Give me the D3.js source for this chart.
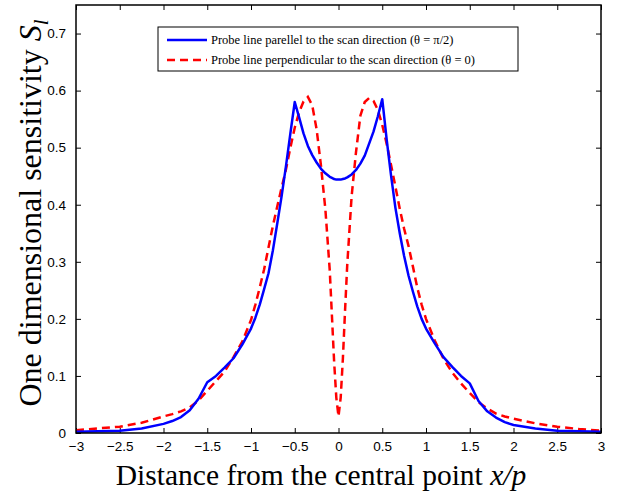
<!DOCTYPE html>
<html lang="en">
<head>
    <meta charset="UTF-8">
    <title>One dimensional sensitivity</title>
    <script src="https://d3js.org/d3.v7.min.js"></script>
    <style>
        body { margin: 0; background: #fff; }
        .tick text { font-family: "Liberation Sans", Arial, sans-serif; font-size: 13.5px; fill: #000; }
    </style>
</head>
<body>
<svg width="618" height="496"></svg>
<script>
    const width = 618;
    const height = 496;
    const margin = {top: 5, right: 17, bottom: 63, left: 76};
    const innerWidth = width - margin.left - margin.right;
    const innerHeight = height - margin.top - margin.bottom;

    // distance from the central point x/p
    const xs = [
        -3, -2.75, -2.5, -2.25, -2, -1.9, -1.8, -1.7, -1.6, -1.5, -1.4, -1.3, -1.2, -1.1, -1,
        -0.95, -0.9, -0.85, -0.8, -0.75, -0.7, -0.65, -0.6, -0.55, -0.5, -0.45, -0.4, -0.35, -0.3, -0.25, -0.2, -0.15, -0.1, -0.075, -0.05, -0.025, 0,
        0.025, 0.05, 0.075, 0.1, 0.15, 0.2, 0.25, 0.3, 0.35, 0.4, 0.45, 0.5, 0.55, 0.6, 0.65, 0.7, 0.75, 0.8, 0.85, 0.9, 0.95, 1,
        1.1, 1.2, 1.3, 1.4, 1.5, 1.6, 1.7, 1.8, 1.9, 2, 2.25, 2.5, 2.75, 3
    ];
    // probe line parallel to scan direction (theta = pi/2)
    const parallel = [
        0.002, 0.003, 0.004, 0.008, 0.016, 0.021, 0.028, 0.040, 0.060, 0.089, 0.100, 0.115, 0.131, 0.155, 0.183,
        0.202, 0.225, 0.252, 0.280, 0.320, 0.367, 0.415, 0.468, 0.525, 0.580, 0.553, 0.525, 0.503, 0.487, 0.474, 0.463, 0.455, 0.449, 0.447, 0.445, 0.444, 0.444,
        0.444, 0.445, 0.446, 0.448, 0.453, 0.461, 0.472, 0.486, 0.507, 0.528, 0.555, 0.585, 0.515, 0.452, 0.395, 0.350, 0.310, 0.276, 0.248, 0.222, 0.200, 0.183,
        0.157, 0.133, 0.116, 0.100, 0.087, 0.056, 0.038, 0.027, 0.019, 0.014, 0.008, 0.004, 0.003, 0.002
    ];
    // probe line perpendicular to scan direction (theta = 0)
    const perpendicular = [
        0.005, 0.008, 0.011, 0.018, 0.029, 0.033, 0.038, 0.045, 0.057, 0.074, 0.091, 0.108, 0.133, 0.160, 0.198,
        0.225, 0.255, 0.287, 0.325, 0.363, 0.397, 0.430, 0.462, 0.500, 0.535, 0.562, 0.581, 0.589, 0.574, 0.532, 0.468, 0.392, 0.285, 0.205, 0.125, 0.062, 0.029,
        0.062, 0.130, 0.215, 0.295, 0.415, 0.492, 0.556, 0.580, 0.587, 0.582, 0.566, 0.540, 0.507, 0.470, 0.432, 0.393, 0.358, 0.328, 0.292, 0.255, 0.225, 0.200,
        0.162, 0.130, 0.106, 0.087, 0.070, 0.054, 0.043, 0.034, 0.029, 0.025, 0.017, 0.011, 0.007, 0.004
    ];
    const xTicks = [-3, -2.5, -2, -1.5, -1, -0.5, 0, 0.5, 1, 1.5, 2, 2.5, 3];
    const yTicks = [0, 0.1, 0.2, 0.3, 0.4, 0.5, 0.6, 0.7];
    const legendLabels = [
        "Probe line parellel to the scan direction (\u03b8 = \u03c0/2)",
        "Probe line perpendicular to the scan direction (\u03b8 = 0)"
    ];

    const svg = d3.select('svg')
        .attr('width', width)
        .attr('height', height);
    const g = svg.append('g')
        .attr('transform', `translate(${margin.left},${margin.top})`);

    const x = d3.scaleLinear().domain([-3, 3]).range([0, innerWidth]);
    const y = d3.scaleLinear().domain([0, 0.75]).range([innerHeight, 0]);

    // axes, MATLAB style: ticks inside, box on all sides
    const fmt = d => d === 0 ? "0" : d3.format("")(d);
    g.append('g')
        .attr('transform', `translate(0,${innerHeight})`)
        .call(d3.axisBottom(x).tickValues(xTicks).tickSizeInner(-5).tickSizeOuter(0).tickPadding(8).tickFormat(fmt))
        .call(a => a.select('.domain').remove());
    g.append('g')
        .call(d3.axisLeft(y).tickValues(yTicks).tickSizeInner(-5).tickSizeOuter(0).tickPadding(10).tickFormat(fmt))
        .call(a => a.select('.domain').remove());
    g.append('g')
        .call(d3.axisTop(x).tickValues(xTicks).tickSizeInner(-5).tickSizeOuter(0).tickFormat(''))
        .call(a => a.select('.domain').remove());
    g.append('g')
        .attr('transform', `translate(${innerWidth},0)`)
        .call(d3.axisRight(y).tickValues(yTicks).tickSizeInner(-5).tickSizeOuter(0).tickFormat(''))
        .call(a => a.select('.domain').remove());
    g.selectAll('.tick line').attr('stroke', '#000');

    g.append('clipPath').attr('id', 'clip')
        .append('rect').attr('width', innerWidth).attr('height', innerHeight);

    const line = d3.line()
        .x((d, i) => x(xs[i]))
        .y(d => y(d));

    g.append('path')
        .attr('clip-path', 'url(#clip)')
        .attr('d', line(perpendicular))
        .style('fill', 'none')
        .style('stroke', '#ff0000')
        .style('stroke-width', 2.5)
        .style('stroke-dasharray', '8,5');

    g.append('path')
        .attr('clip-path', 'url(#clip)')
        .attr('d', line(parallel))
        .style('fill', 'none')
        .style('stroke', '#0000ff')
        .style('stroke-width', 2.5)
        .style('stroke-linejoin', 'round');

    g.append('rect')
        .attr('width', innerWidth)
        .attr('height', innerHeight)
        .style('fill', 'none')
        .style('stroke', '#000')
        .style('stroke-width', 1.5);

    // legend
    const legend = g.append('g').attr('transform', 'translate(82,22)');
    legend.append('rect')
        .attr('width', 360).attr('height', 44)
        .style('fill', '#fff').style('stroke', '#000').style('stroke-width', 1);
    const styles = [
        {stroke: '#0000ff', dash: null},
        {stroke: '#ff0000', dash: '8,5'}
    ];
    legendLabels.forEach((label, i) => {
        const row = legend.append('g').attr('transform', `translate(0,${13 + i * 20})`);
        row.append('line')
            .attr('x1', 9).attr('x2', 49)
            .style('stroke', styles[i].stroke)
            .style('stroke-width', 2.5)
            .style('stroke-dasharray', styles[i].dash);
        row.append('text')
            .attr('x', 53).attr('y', 4)
            .style('font-family', '"Liberation Serif", "Times New Roman", serif')
            .style('font-size', '12.5px')
            .text(label);
    });

    // axis titles
    const xl = svg.append('text')
        .attr('x', 321)
        .attr('y', 485)
        .attr('text-anchor', 'middle')
        .style('font-family', '"Liberation Serif", "Times New Roman", serif')
        .style('font-size', '29.5px');
    xl.append('tspan').text('Distance from the central point ');
    xl.append('tspan').style('font-style', 'italic').text('x/p');

    const yl = svg.append('text')
        .attr('transform', `translate(41,213) rotate(-90)`)
        .attr('text-anchor', 'middle')
        .style('font-family', '"Liberation Serif", "Times New Roman", serif')
        .style('font-size', '32px');
    yl.append('tspan').text('One dimensional sensitivity ');
    yl.append('tspan').style('font-style', 'italic').text('S');
    yl.append('tspan').style('font-style', 'italic').style('font-size', '21px').attr('dy', 7).text('l');
</script>
</body>
</html>
